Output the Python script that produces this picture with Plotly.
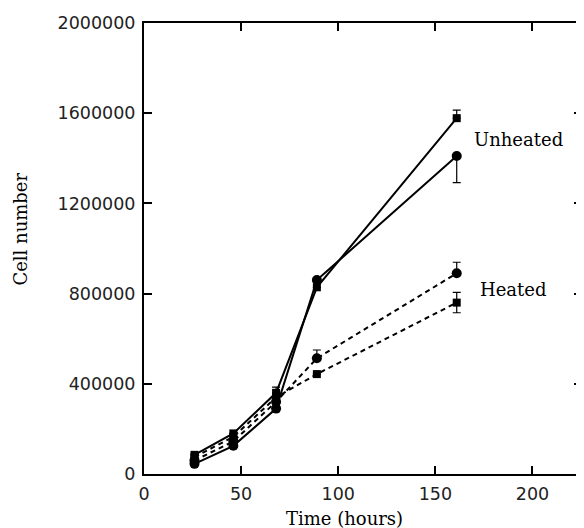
import plotly.graph_objects as go

time_h = [26, 46, 68, 89, 161]

unheated_sq = [85000, 180000, 360000, 828000, 1578000]
unheated_sq_err = [0, 0, 25000, 0, 36000]
unheated_ci = [45000, 125000, 290000, 860000, 1410000]
unheated_ci_err_minus = [0, 0, 0, 0, 118000]

heated_ci = [60000, 145000, 320000, 513000, 890000]
heated_ci_err = [0, 0, 0, 37000, 49000]
heated_sq = [75000, 165000, 340000, 443000, 760000]
heated_sq_err = [0, 0, 0, 0, 45000]

x_ticks = [0, 50, 100, 150, 200]
y_ticks = [0, 400000, 800000, 1200000, 1600000, 2000000]

fig = go.Figure()

def add(y, sym, size, dash, err_plus=None, err_minus=None):
    eb = None
    if err_plus is not None or err_minus is not None:
        eb = dict(type="data", symmetric=False,
                  array=err_plus if err_plus is not None else [0]*len(y),
                  arrayminus=err_minus if err_minus is not None else [0]*len(y),
                  color="black", thickness=1.2, width=4)
    fig.add_trace(go.Scatter(
        x=time_h, y=y, mode="lines+markers",
        line=dict(color="black", width=2, dash=dash),
        marker=dict(symbol=sym, size=size, color="black"),
        error_y=eb, showlegend=False))

add(unheated_sq, "square", 8, "solid", unheated_sq_err, [0, 0, 0, 0, 0])
add(unheated_ci, "circle", 10, "solid", None, unheated_ci_err_minus)
add(heated_ci, "circle", 10, "5px,4px", heated_ci_err, [0]*5)
add(heated_sq, "square", 8, "5px,4px", heated_sq_err, heated_sq_err)

tick_font = dict(family="DejaVu Sans", size=17.5, color="#222")
title_font = dict(family="DejaVu Serif", size=18, color="black")

fig.update_xaxes(range=[0, 225.5], tickvals=x_ticks, ticktext=[str(v) for v in x_ticks],
                 ticks="inside", ticklen=8, tickwidth=1.5, tickcolor="black",
                 showline=True, linecolor="black", linewidth=2, mirror="ticks",
                 showgrid=False, zeroline=False, tickfont=tick_font, ticklabelstandoff=3)
fig.update_yaxes(range=[0, 2000000], tickvals=y_ticks, ticktext=[str(v) for v in y_ticks],
                 ticks="inside", ticklen=8, tickwidth=1.5, tickcolor="black",
                 showline=True, linecolor="black", linewidth=2, mirror="ticks",
                 showgrid=False, zeroline=False, tickfont=tick_font, ticklabelstandoff=3)

fig.add_annotation(x=168.9, y=1485000, text="Unheated", showarrow=False,
                   xanchor="left", yanchor="middle", font=title_font)
fig.add_annotation(x=171.9, y=816000, text="Heated", showarrow=False,
                   xanchor="left", yanchor="middle", font=title_font)
fig.add_annotation(xref="paper", yref="paper", x=0.457, y=-0.0976, text="Time (hours)",
                   showarrow=False, xanchor="center", yanchor="middle", font=title_font)
fig.add_annotation(xref="paper", yref="paper", x=-0.282, y=0.543, text="Cell number",
                   showarrow=False, xanchor="center", yanchor="middle", textangle=-90,
                   font=title_font)

fig.update_layout(width=576, height=520, margin=dict(l=136, r=0, t=15, b=54),
                  plot_bgcolor="white", paper_bgcolor="white")

fig.write_html("out.html")
